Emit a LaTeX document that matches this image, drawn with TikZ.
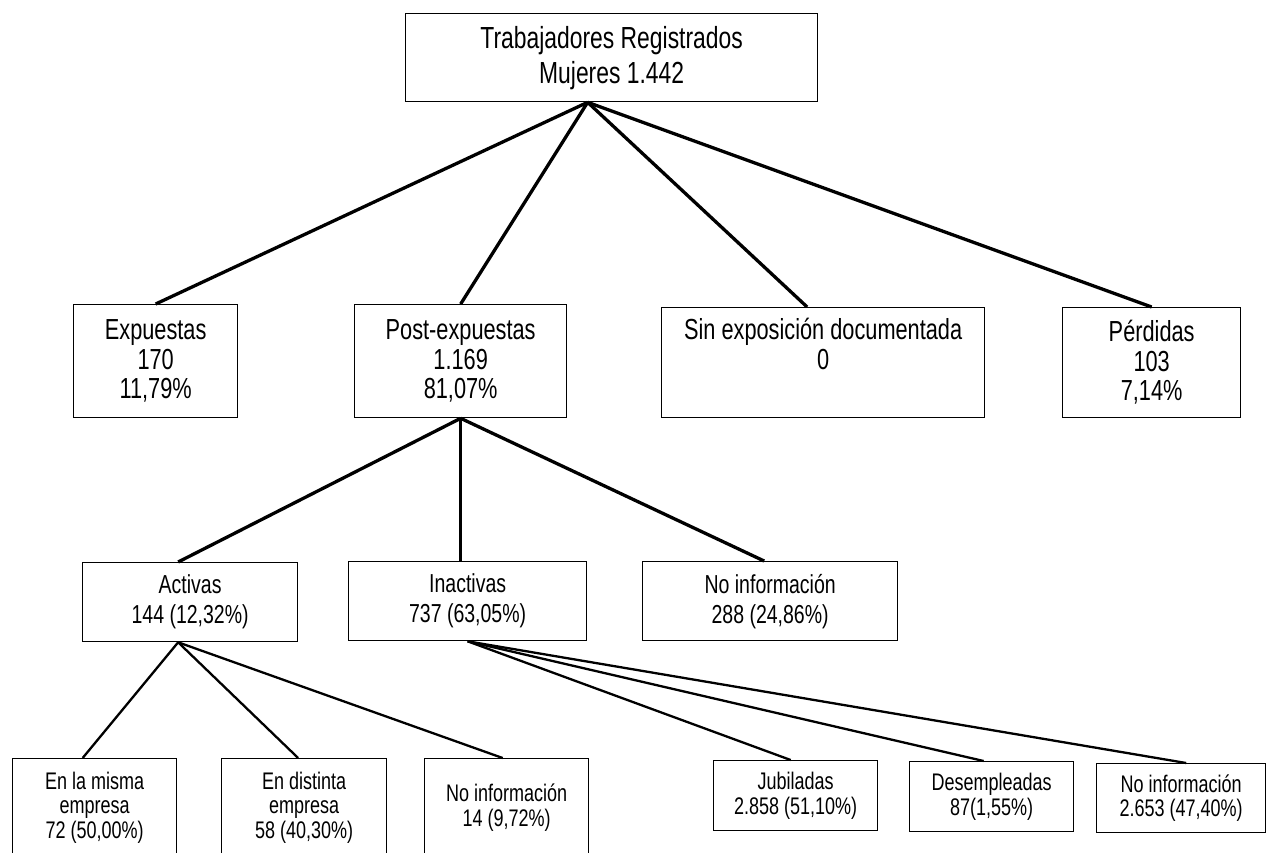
\documentclass[tikz,border=0pt]{standalone}
\usepackage{fontspec}
\setmainfont{Liberation Sans}[FakeStretch=0.75]
\usepackage{tikz}

\tikzset{
  caja/.style={draw, line width=1.3pt, rectangle, inner sep=0pt, anchor=north west, align=center},
  nivela/.style={caja, font=\fontsize{30.5}{35}\selectfont},
  nivelb/.style={caja, font=\fontsize{29}{29.5}\selectfont},
  nivelc/.style={caja, font=\fontsize{26}{30}\selectfont},
  niveld/.style={caja, font=\fontsize{24}{24.5}\selectfont},
  ramagruesa/.style={line width=3.3pt},
  ramafina/.style={line width=2.3pt}
}

\begin{document}
\begin{tikzpicture}[x=1pt,y=-1pt]
\useasboundingbox (0,0) rectangle (1268,852);
\clip (0,0) rectangle (1268,852);

% total
\node[nivela, minimum width=412pt, minimum height=88pt] (total) at (405,13)
  {Trabajadores Registrados\\Mujeres 1.442};

% second level
\node[nivelb, minimum width=164pt, minimum height=113pt] (expuestas) at (73,304)
  {Expuestas\\170\\11,79\%};
\node[nivelb, minimum width=212pt, minimum height=113pt] (post) at (354,304)
  {Post-expuestas\\1.169\\81,07\%};
\node[nivelb, minimum width=323pt, minimum height=110pt] (sinexp) at (661,307)
  {Sin exposición documentada\\0\\[8pt]};
\node[nivelb, minimum width=178pt, minimum height=110pt] (perdidas) at (1062,307)
  {Pérdidas\\103\\7,14\%};

% third level
\node[nivelc, minimum width=215pt, minimum height=79pt] (activas) at (82,562)
  {Activas\\144 (12,32\%)};
\node[nivelc, minimum width=238pt, minimum height=79pt] (inactivas) at (348,561)
  {Inactivas\\737 (63,05\%)};
\node[nivelc, minimum width=255pt, minimum height=79pt] (noinfpost) at (642,561)
  {No información\\288 (24,86\%)};

% fourth level
\node[niveld, minimum width=164pt, minimum height=98pt] (misma) at (12,758)
  {En la misma\\empresa\\72 (50,00\%)};
\node[niveld, minimum width=165pt, minimum height=98pt] (distinta) at (221,758)
  {En distinta\\empresa\\58 (40,30\%)};
\node[niveld, minimum width=164pt, minimum height=98pt] (noinfact) at (424,758)
  {No información\\14 (9,72\%)};
\node[niveld, minimum width=164pt, minimum height=70pt] (jubiladas) at (713,760)
  {Jubiladas\\2.858 (51,10\%)};
\node[niveld, minimum width=164pt, minimum height=70pt] (desemp) at (909,761)
  {Desempleadas\\87(1,55\%)};
\node[niveld, minimum width=169pt, minimum height=69pt] (noinfinact) at (1096,763)
  {No información\\2.653 (47,40\%)};

% branches
\begin{scope}[ramagruesa]
\draw ([xshift=-24pt]total.south) -- (expuestas.north);
\draw ([xshift=-24pt]total.south) -- (post.north);
\draw ([xshift=-24pt]total.south) -- ([xshift=-16pt]sinexp.north);
\draw ([xshift=-24pt]total.south) -- (perdidas.north);
\draw (post.south) -- ([xshift=-12pt]activas.north);
\draw (post.south) -- ([xshift=-7pt]inactivas.north);
\draw (post.south) -- ([xshift=-6pt]noinfpost.north);
\end{scope}

\begin{scope}[ramafina]
\draw ([xshift=-12pt]activas.south) -- ([xshift=-12pt]misma.north);
\draw ([xshift=-12pt]activas.south) -- ([xshift=-6pt]distinta.north);
\draw ([xshift=-12pt]activas.south) -- ([xshift=-4pt]noinfact.north);
\draw (inactivas.south) -- ([xshift=-5pt]jubiladas.north);
\draw (inactivas.south) -- ([xshift=-8pt]desemp.north);
\draw (inactivas.south) -- ([xshift=5pt]noinfinact.north);
\end{scope}
\end{tikzpicture}
\end{document}
